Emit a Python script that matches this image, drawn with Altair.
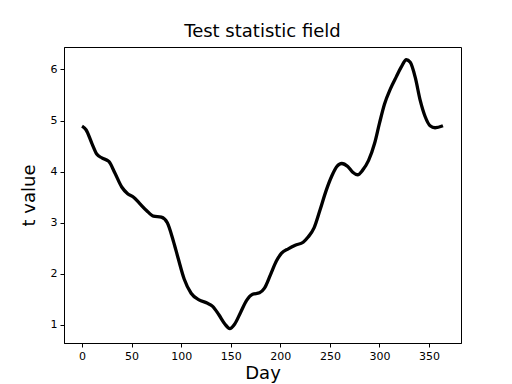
import altair as alt
import pandas as pd

days = [0, 4, 10, 15, 20, 27, 33, 40, 46, 52, 58, 65, 72, 80, 86, 92, 97, 103,
        110, 118, 126, 132, 138, 144, 149, 154, 160, 166, 172, 179, 184, 190,
        196, 201, 208, 215, 223, 228, 234, 240, 246, 252, 257, 262, 268, 273,
        278, 283, 289, 295, 300, 305, 311, 317, 322, 327, 331, 336, 341, 346,
        351, 356, 364]
tvals = [4.89, 4.82, 4.55, 4.34, 4.27, 4.20, 3.98, 3.70, 3.57, 3.50, 3.38, 3.24,
         3.13, 3.11, 3.00, 2.65, 2.30, 1.90, 1.62, 1.49, 1.43, 1.36, 1.20, 1.02,
         0.93, 1.02, 1.25, 1.48, 1.60, 1.63, 1.72, 1.98, 2.25, 2.40, 2.49, 2.56,
         2.62, 2.72, 2.90, 3.25, 3.62, 3.92, 4.10, 4.16, 4.10, 3.99, 3.94, 4.03,
         4.22, 4.55, 4.95, 5.32, 5.62, 5.86, 6.05, 6.19, 6.14, 5.85, 5.40, 5.08,
         4.90, 4.86, 4.90]
x_ticks = [0, 50, 100, 150, 200, 250, 300, 350]
y_ticks = [1, 2, 3, 4, 5, 6]

df = pd.DataFrame({"Day": days, "t": tvals})

FONT = "DejaVu Sans"

chart = alt.Chart(df).mark_line(
    color="black", strokeWidth=3.3, interpolate="monotone"
).encode(
    x=alt.X("Day:Q",
            scale=alt.Scale(domain=[-18.2, 382.2], nice=False, zero=False),
            axis=alt.Axis(values=x_ticks, title="Day", grid=False,
                          tickSize=4, labelPadding=3, titlePadding=3,
                          labelFontSize=11, titleFontSize=18,
                          titleFontWeight="normal", labelFont=FONT,
                          titleFont=FONT, labelColor="black",
                          titleColor="black", tickColor="black",
                          domainColor="black", labelFlush=False)),
    y=alt.Y("t:Q",
            scale=alt.Scale(domain=[0.647, 6.44], nice=False, zero=False),
            axis=alt.Axis(values=y_ticks, title="t value", grid=False,
                          tickSize=4, labelPadding=3, titlePadding=12,
                          labelFontSize=11, titleFontSize=18,
                          titleFontWeight="normal", labelFont=FONT,
                          titleFont=FONT, labelColor="black",
                          titleColor="black", tickColor="black",
                          domainColor="black", labelFlush=False)),
).properties(
    width=397, height=296,
    title=alt.TitleParams("Test statistic field", font=FONT, fontSize=18,
                          fontWeight="normal", color="black", offset=6),
    autosize=alt.AutoSizeParams(type="none"),
    padding={"left": 56, "top": 39, "right": 40, "bottom": 40},
).configure_view(stroke="black", strokeWidth=1)

chart.save("out.html", embed_options={"renderer": "svg", "actions": False})
